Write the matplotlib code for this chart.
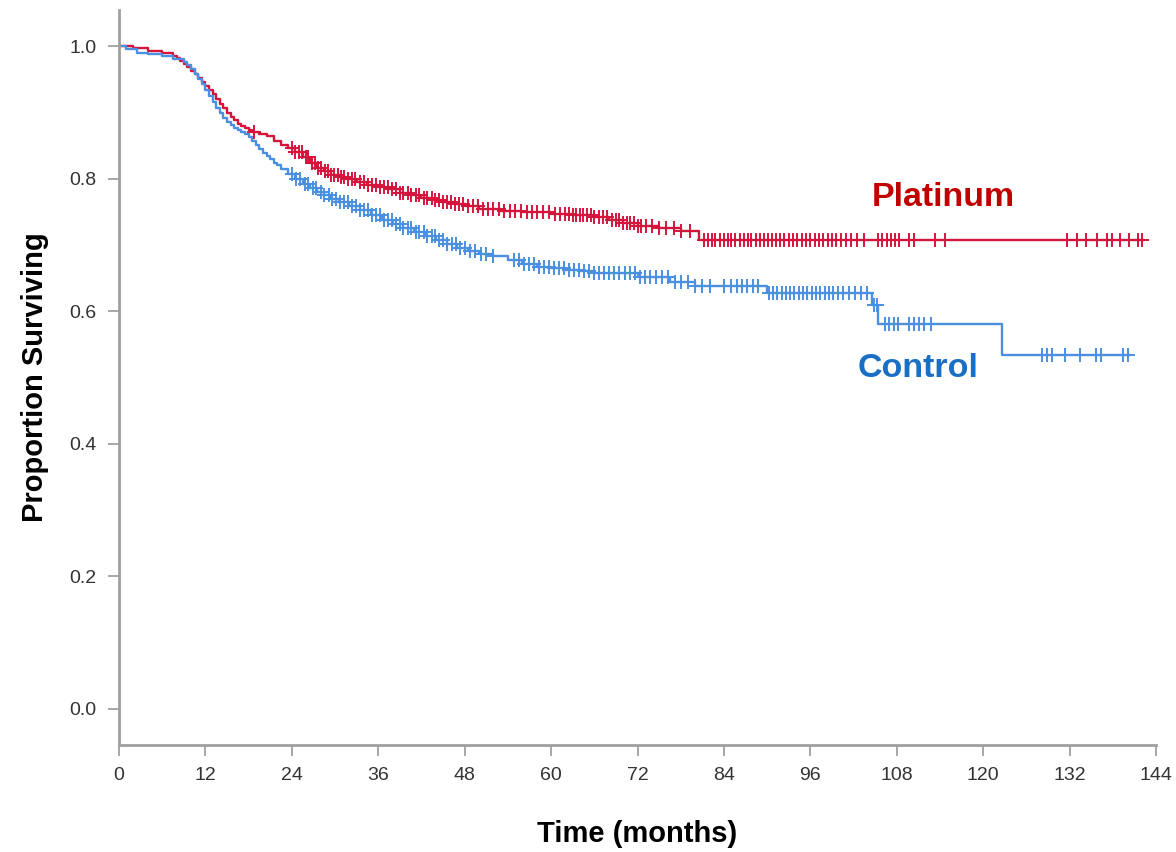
#Import Statements
import numpy as np
import matplotlib
matplotlib.use('Agg')
import matplotlib.pyplot as plt

#Kaplan-Meier curves (step knots)
plat_time = [0, 2, 4, 6, 7.5, 8, 8.5, 9, 9.5, 10, 10.5, 11, 11.5, 12, 12.5, 13, 13.5, 14, 14.5, 15,
             15.5, 16, 16.5, 17, 17.5, 18, 18.5, 19.5, 20.5, 21.5, 22.5, 23.5, 24.5, 25.5, 26.5, 27.5, 28.5, 29.5, 30.5, 31.5,
             33, 34.5, 36, 37.5, 39, 40.5, 42, 43.5, 45, 46.5, 48, 50, 53, 56, 60, 63, 66, 68, 70, 72,
             75, 78, 80.5, 142]
plat_surv = [1.0, .997, .993, .989, .985, .982, .978, .973, .968, .963, .958, .952, .946, .94, .934, .927, .92, .913, .906, .899,
             .893, .888, .883, .879, .876, .873, .871, .868, .864, .857, .851, .846, .84, .832, .824, .816, .811, .806, .802, .799,
             .795, .791, .788, .784, .779, .775, .771, .767, .764, .761, .758, .754, .751, .749, .747, .745, .742, .738, .733, .728,
             .725, .721, .707, .707]

ctrl_time = [0, 1, 2.5, 4, 6, 7.5, 9, 9.5, 10, 10.5, 11, 11.5, 12, 12.5, 13, 13.5, 14, 14.5, 15, 15.5,
             16, 16.5, 17, 17.5, 18, 18.5, 19, 19.5, 20, 20.5, 21, 21.5, 22, 22.5, 23.5, 24.5, 25.5, 26.5, 27.5, 28.5,
             29.5, 30.5, 32, 33.5, 35, 36.5, 38, 39.5, 41, 42.5, 44, 45.5, 47, 48.5, 50, 52, 54, 56, 58, 60,
             62, 64, 66, 72, 76.5, 80, 90, 104.6, 105.4, 122.6, 140.4]
ctrl_surv = [1.0, .995, .99, .988, .985, .981, .976, .972, .966, .958, .95, .942, .934, .925, .916, .907, .899, .892, .886, .881,
             .877, .874, .871, .867, .862, .857, .851, .845, .839, .834, .829, .824, .82, .815, .807, .8, .792, .786, .78, .775,
             .769, .764, .758, .752, .745, .738, .731, .725, .719, .713, .708, .702, .696, .691, .687, .683, .677, .671, .667, .665,
             .662, .66, .658, .652, .644, .638, .627, .609, .581, .534, .534]

#Censored times
plat_cens = [18.8, 24.0, 24.5, 25.0, 25.4, 25.9, 26.3, 26.8, 27.2, 27.7, 28.1, 28.6, 29.0, 29.5, 29.9, 30.4, 30.8, 31.3, 31.8, 32.3,
             32.8, 33.4, 34.0, 34.6, 35.1, 35.7, 36.2, 36.8, 37.3, 37.9, 38.4, 39.0, 39.5, 40.1, 40.6, 41.2, 41.7, 42.3, 42.8, 43.4,
             43.9, 44.5, 45.0, 45.6, 46.1, 46.7, 47.2, 47.8, 48.4, 49.1, 49.8, 50.5, 51.3, 52.0, 52.8, 53.5, 54.3, 55.0, 55.8, 56.6,
             57.4, 58.1, 58.9, 59.7, 60.5, 61.3, 62.0, 62.5, 63.0, 63.5, 64.0, 64.5, 65.0, 65.5, 66.0, 66.6, 67.2, 67.8, 68.4, 69.0,
             69.5, 70.0, 70.5, 71.0, 71.5, 72.0, 72.5, 73.2, 74.0, 75.0, 76.0, 77.0, 78.0, 79.3, 81.3, 81.8, 82.3, 82.8, 83.4, 84.0,
             84.5, 85.0, 85.6, 86.2, 86.8, 87.3, 87.8, 88.4, 89.0, 89.5, 90.1, 90.7, 91.3, 91.8, 92.4, 93.0, 93.6, 94.2, 94.8, 95.4,
             96.0, 96.6, 97.2, 97.8, 98.4, 99.0, 99.6, 100.3, 101.0, 101.7, 102.5, 103.5, 105.4, 106.0, 106.6, 107.2, 107.8, 108.3, 109.7, 110.4,
             113.3, 114.7, 131.7, 133.0, 134.3, 135.8, 137.2, 137.9, 139.0, 140.2, 141.5, 142.0]
ctrl_cens = [24.0, 24.6, 25.2, 25.8, 26.3, 26.9, 27.4, 28.0, 28.5, 29.1, 29.6, 30.2, 30.7, 31.3, 31.8, 32.4, 32.9, 33.5, 34.0, 34.6,
             35.1, 35.7, 36.2, 36.8, 37.3, 37.9, 38.4, 39.0, 39.5, 40.1, 40.6, 41.2, 41.7, 42.3, 42.8, 43.4, 43.9, 44.5, 45.0, 45.6,
             46.2, 46.8, 47.4, 48.0, 48.7, 49.4, 50.2, 51.0, 52.0, 54.8, 55.5, 56.2, 56.9, 57.6, 58.3, 59.0, 59.7, 60.4, 61.1, 61.8,
             62.5, 63.2, 63.9, 64.6, 65.3, 66.0, 66.7, 67.4, 68.1, 68.8, 69.5, 70.2, 70.9, 71.6, 72.3, 73.0, 73.8, 74.6, 75.4, 76.3,
             77.2, 78.1, 79.0, 80.0, 81.0, 82.0, 84.0, 85.0, 85.8, 86.5, 87.2, 88.0, 88.7, 90.2, 90.8, 91.4, 92.0, 92.6, 93.2, 93.8,
             94.4, 95.0, 95.6, 96.2, 96.8, 97.4, 98.0, 98.6, 99.2, 99.8, 100.5, 101.3, 102.2, 103.1, 103.9, 104.8, 105.2, 106.3, 106.9, 107.6,
             108.2, 109.7, 110.4, 111.1, 111.8, 112.8, 128.2, 128.9, 129.6, 131.4, 133.5, 135.7, 136.4, 139.4, 140.1]

x_ticks = [0, 12, 24, 36, 48, 60, 72, 84, 96, 108, 120, 132, 144]
y_ticks = [0.0, 0.2, 0.4, 0.6, 0.8, 1.0]

red = '#d5143c'
blue = '#4a8fe0'

#Survival value at censor time (step lookup)
def surv_at(times, surv, t):
    idx = np.searchsorted(times, t, side='right') - 1
    return np.array(surv)[idx]

plt.rcParams['font.family'] = ['Liberation Sans', 'DejaVu Sans']
fig = plt.figure(figsize=(11.76, 8.52), dpi=100)
ax = fig.add_axes([119/1176, 1-745/852, (1156-119)/1176, (745-10)/852])

ax.plot(plat_time, plat_surv, drawstyle='steps-post', color=red, linewidth=1.7)
ax.plot(ctrl_time, ctrl_surv, drawstyle='steps-post', color=blue, linewidth=1.7)
ax.plot(plat_cens, surv_at(plat_time, plat_surv, plat_cens), linestyle='none', marker='+',
        markersize=10, markeredgewidth=1.4, color=red)
ax.plot(ctrl_cens, surv_at(ctrl_time, ctrl_surv, ctrl_cens), linestyle='none', marker='+',
        markersize=10, markeredgewidth=1.4, color=blue)

#Group labels
ax.text(114.4, 0.772, 'Platinum', color='#c00000', fontsize=24.5, fontweight='bold', ha='center', va='center')
ax.text(111.0, 0.514, 'Control', color='#1a6fc4', fontsize=24.5, fontweight='bold', ha='center', va='center')

ax.set_xlim(0, 144)
ax.set_ylim(-0.0543, 1.0543)
ax.set_xticks(x_ticks)
ax.set_yticks(y_ticks)
ax.set_yticklabels(['%.1f' % v for v in y_ticks])
ax.tick_params(axis='both', colors='#999999', labelcolor='#333333', labelsize=14, length=8, width=1.2, pad=8)

for s in ['top', 'right']:
    ax.spines[s].set_visible(False)
for s in ['left', 'bottom']:
    ax.spines[s].set_color('#a0a0a0')
    ax.spines[s].set_linewidth(2)

ax.set_xlabel('Time (months)', fontsize=21, fontweight='bold', labelpad=26)
ax.set_ylabel('Proportion Surviving', fontsize=21, fontweight='bold', labelpad=15)

fig.savefig('out.png', dpi=100)
